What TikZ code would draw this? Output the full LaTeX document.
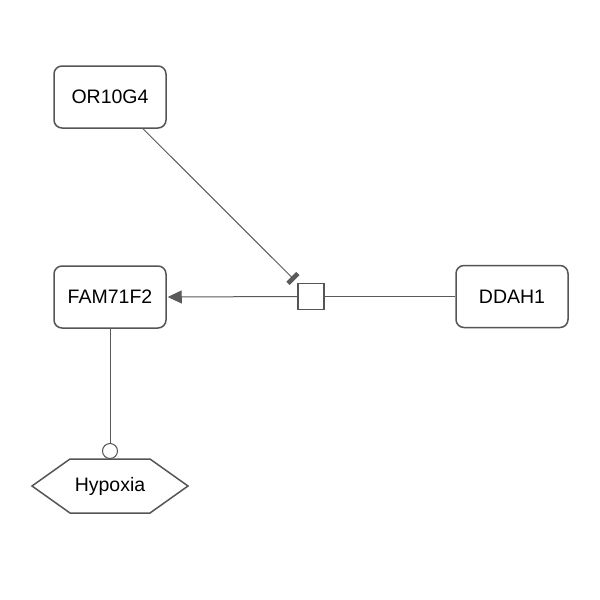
\documentclass[tikz,border=0pt]{standalone}
\usepackage{fontspec}
\setmainfont{Liberation Sans}
\usetikzlibrary{arrows.meta}
\definecolor{edgegray}{HTML}{5A5A5A}
\definecolor{boxgray}{HTML}{555555}
\tikzset{
  gene/.style={draw=boxgray, line width=1.5pt, rounded corners=8pt, minimum width=112pt, minimum height=62pt, font=\fontsize{19.5}{23}\selectfont, inner sep=0pt},
  procbox/.style={draw=boxgray, line width=1.3pt, minimum size=26pt, inner sep=0pt, fill=white},
  conn/.style={draw=edgegray, line width=1pt},
  hexa/.style={draw=boxgray, line width=1.5pt},
  knob/.style={circle, draw=boxgray, line width=1pt, minimum size=15pt, inner sep=0pt, fill=white}
}
\begin{document}
\begin{tikzpicture}[x=1pt,y=-1pt]
\useasboundingbox (0,0) rectangle (600,600);
\fill[white] (0,0) rectangle (600,600);
\node[gene] (or) at (110,97) {OR10G4};
\node[gene] (fam) at (110,297) {FAM71F2};
\node[gene] (dd) at (512,296.5) {DDAH1};
\node[procbox] (sq) at (311,296.5) {};
\draw[hexa] (32,486) -- (70,459) -- (150,459) -- (188,486) -- (150,513) -- (70,513) -- cycle;
\node[font=\fontsize{19.5}{23}\selectfont] (hyp) at (110,486) {Hypoxia};
\node[knob] (c) at (110,451) {};
\draw[conn] (fam.south) -- (c.north);
\draw[conn, -{Triangle[length=14pt,width=13pt]}, shorten >=1pt] (sq.west) -- (fam.east);
\draw[conn] (dd.west) -- (sq.east);
\draw[conn, -{Bar[width=14pt,line width=4.5pt]}, shorten >=4pt] ([xshift=33pt]or.south) -- (sq.north west);
\end{tikzpicture}
\end{document}
